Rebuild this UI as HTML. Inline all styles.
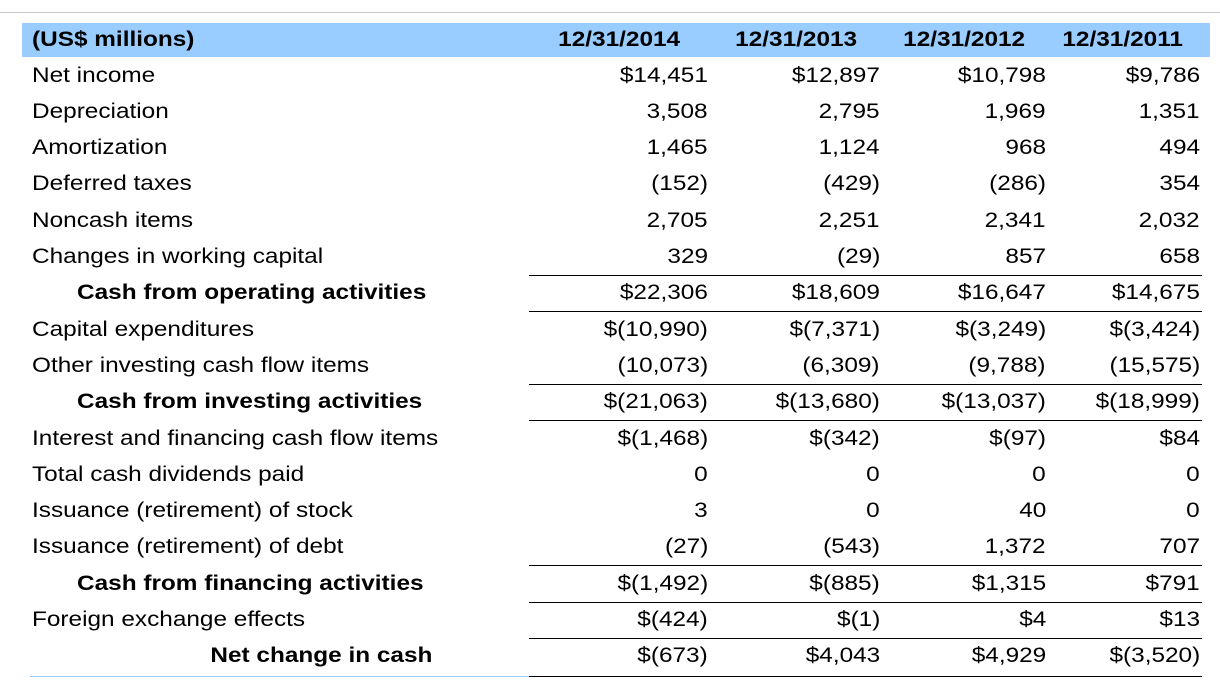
<!DOCTYPE html>
<html><head><meta charset="utf-8"><style>
body{margin:0;width:1220px;height:682px;background:#fff;font-family:"Liberation Sans",Arial,sans-serif;position:relative;overflow:hidden;color:#000}
.topline{position:absolute;left:0;top:12px;width:1220px;height:1px;background:#c8c8c8}
.hdr{position:absolute;left:22px;top:23px;width:1188px;height:34px;background:#99ccff}
.t{position:absolute;font-size:21px;line-height:24px;white-space:nowrap;transform:scaleX(1.16)}
.L{transform-origin:left center}
.R{transform-origin:right center}
.b{font-weight:bold}
.hl{position:absolute;height:1px;background:#000;left:529px;width:673px}
</style></head><body>
<div class="topline"></div>
<div class="hdr"></div>
<div id="tbl"></div>
<div style="position:absolute;left:30px;top:676px;width:499px;height:1px;background:#99ccff"></div>
<script>
const headers=["12/31/2014","12/31/2013","12/31/2012","12/31/2011"];
const labels=["Net income","Depreciation","Amortization","Deferred taxes","Noncash items","Changes in working capital","Cash from operating activities","Capital expenditures","Other investing cash flow items","Cash from investing activities","Interest and financing cash flow items","Total cash dividends paid","Issuance (retirement) of stock","Issuance (retirement) of debt","Cash from financing activities","Foreign exchange effects","Net change in cash"];
const col2014=["$14,451","3,508","1,465","(152)","2,705","329","$22,306","$(10,990)","(10,073)","$(21,063)","$(1,468)","0","3","(27)","$(1,492)","$(424)","$(673)"];
const col2013=["$12,897","2,795","1,124","(429)","2,251","(29)","$18,609","$(7,371)","(6,309)","$(13,680)","$(342)","0","0","(543)","$(885)","$(1)","$4,043"];
const col2012=["$10,798","1,969","968","(286)","2,341","857","$16,647","$(3,249)","(9,788)","$(13,037)","$(97)","0","40","1,372","$1,315","$4","$4,929"];
const col2011=["$9,786","1,351","494","354","2,032","658","$14,675","$(3,424)","(15,575)","$(18,999)","$84","0","0","707","$791","$13","$(3,520)"];
const cols=[col2014,col2013,col2012,col2011];
const subtotals=[6,9,14];
const lineAbove=[6,7,9,10,14,15,16];
const rightEdges=[708,880,1046,1200];
const hdrRight=[680,857,1025,1183];
const tbl=document.getElementById('tbl');
function add(txt,cls,style){const d=document.createElement('div');d.className='t '+cls;d.textContent=txt;d.style.cssText=style;tbl.appendChild(d);return d;}
const h0=add("(US$ millions)","b L","left:32px;top:28px");


headers.forEach((h,j)=>{const d=add(h,"b R","right:"+(1220-hdrRight[j])+"px;top:28px");

});
labels.forEach((l,i)=>{
 const cy=75.5+i*36.3, top=(cy-12)+"px";
 let st="left:32px;top:"+top, cls="L";
 if(subtotals.includes(i)){st="left:77px;top:"+top;cls="b L";}
 if(i===16){st="right:"+(1220-432)+"px;top:"+top;cls="b R";}
 const d=add(l,cls,st);
 
 
 cols.forEach((c,j)=>{const v=add(c[i],"R","right:"+(1220-rightEdges[j])+"px;top:"+top);
  
  });
 if(lineAbove.includes(i)){const ln=document.createElement('div');ln.className='hl';ln.style.top=Math.round(cy-18.5)+"px";
  
  
  tbl.appendChild(ln);}
});
const lb=document.createElement('div');lb.className='hl';lb.style.top="676px";


tbl.appendChild(lb);
</script>
</body></html>
